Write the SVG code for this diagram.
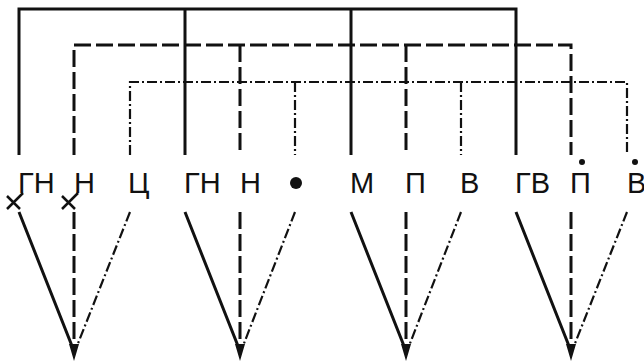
<svg xmlns="http://www.w3.org/2000/svg" width="644" height="362" viewBox="0 0 644 362">
<style>
.s{stroke:#111;stroke-width:3;fill:none}
.d{stroke:#111;stroke-width:3;fill:none;stroke-dasharray:17 5}
.dd{stroke:#111;stroke-width:2.2;fill:none;stroke-dasharray:10 3 2 3}
.t{font-family:"Liberation Sans",Arial,sans-serif;font-size:29px;fill:#111}
.x{stroke:#111;stroke-width:2.5;fill:none}
.a{fill:#111}
</style>
<rect width="644" height="362" fill="#fff"/>
<g id="connectors">
<path class="s" d="M19 155V9H516V155M185 9V155M351 9V155"/>
<path class="d" d="M74 155V45H571V155M240 45V155M406 45V155"/>
<path class="dd" d="M130 155V82H627V155M295 82V155M461 82V155"/>
<path class="s" d="M19 212L72 346M185 212L238 346M351 212L404 346M516 212L569 346"/>
<path class="d" d="M74 212V346M240 212V346M406 212V346M571 212V346"/>
<path class="dd" d="M130 212L77 346M295 212L243 346M461 212L409 346M627 212L574 346"/>
<path class="a" d="M69 344H79L74 361ZM235 344H245L240 361ZM401 344H411L406 361ZM566 344H576L571 361Z"/>
<path class="x" d="M7 196L20 209M20 196L7 209M20 196L23 193M62 196L75 209M75 196L62 209M75 196L78 193"/>
</g>
<g id="labels">
<text class="t" x="18" y="193">ГН</text>
<text class="t" x="74" y="193">Н</text>
<text class="t" x="128" y="193">Ц</text>
<text class="t" x="184" y="193">ГН</text>
<text class="t" x="240" y="193">Н</text>
<circle class="a" cx="296" cy="183" r="6"/>
<text class="t" x="350" y="193">М</text>
<text class="t" x="405" y="193">П</text>
<text class="t" x="460" y="193">В</text>
<text class="t" x="515" y="193">ГВ</text>
<text class="t" x="570" y="193">П</text>
<circle class="a" cx="582" cy="162" r="3"/>
<text class="t" x="627" y="193">В</text>
<circle class="a" cx="635" cy="162" r="3"/>
</g>
</svg>
